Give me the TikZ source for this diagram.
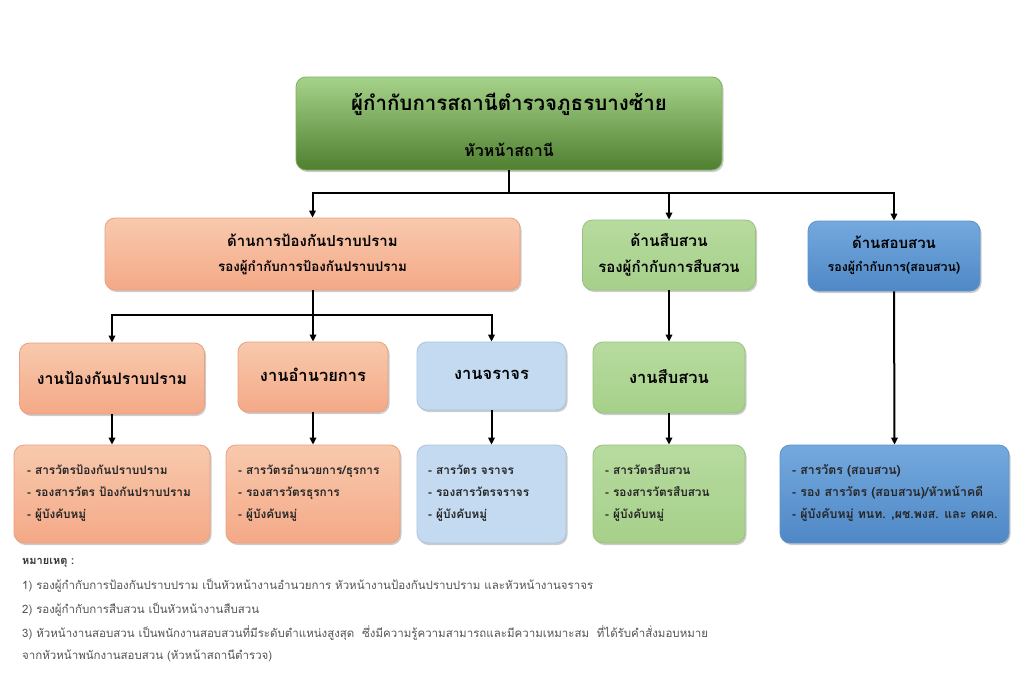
\documentclass[tikz,border=0pt]{standalone}
\usepackage{fontspec}
\setmainfont[Script=Thai]{Loma}
\usetikzlibrary{arrows.meta,shadows}
\definecolor{gtop}{HTML}{A6D38A}
\definecolor{gbot}{HTML}{4F7F2F}
\definecolor{gdraw}{HTML}{7FAE5F}
\definecolor{stop}{HTML}{F8C9AD}
\definecolor{sbot}{HTML}{F4A987}
\definecolor{sdraw}{HTML}{E9A17F}
\definecolor{ltop}{HTML}{B7DB9F}
\definecolor{lbot}{HTML}{A6D08A}
\definecolor{ldraw}{HTML}{98C27C}
\definecolor{btop}{HTML}{74A9DE}
\definecolor{bbot}{HTML}{4F88C6}
\definecolor{bdraw}{HTML}{5E93CB}
\definecolor{pbl}{HTML}{C3DAF0}
\definecolor{pbldraw}{HTML}{A9C4DE}
\definecolor{notec}{HTML}{555555}
\begin{document}
\begin{tikzpicture}[x=1pt,y=-1pt,
  box/.style={rounded corners=10pt, line width=0.8pt, inner sep=0pt,
    drop shadow={shadow xshift=1.5pt, shadow yshift=-2pt, opacity=0.2, fill=black}},
  topbox/.style={box, draw=gdraw, top color=gtop, bottom color=gbot},
  salbox/.style={box, draw=sdraw, top color=stop, bottom color=sbot},
  grnbox/.style={box, draw=ldraw, top color=ltop, bottom color=lbot},
  blubox/.style={box, draw=bdraw, top color=btop, bottom color=bbot},
  palebox/.style={box, draw=pbldraw, fill=pbl},
  lbl/.style={inner sep=0pt, text=black, font=\bfseries},
  lst/.style={inner sep=0pt, anchor=west, align=left, text=black!85,
    font=\fontsize{11.8}{22}\selectfont\bfseries},
  note/.style={inner sep=0pt, anchor=west, text=notec, font=\fontsize{11.5}{13}\selectfont},
  ln/.style={line width=2pt, black},
  arr/.style={ln, -{Triangle[length=7pt,width=6.5pt]}}]
\useasboundingbox[fill=white] (0,0) rectangle (1024,685);

% top
\node[topbox, minimum width=426pt, minimum height=93pt] (top) at (509,123.5) {};
\node[lbl, font=\fontsize{20.5}{26}\selectfont\bfseries] (topa) at (509,104) {ผู้กำกับการสถานีตำรวจภูธรบางซ้าย};
\node[lbl, font=\fontsize{16}{20}\selectfont\bfseries] (topb) at (509,150) {หัวหน้าสถานี};

% second tier
\node[salbox, minimum width=415pt, minimum height=72pt] (A) at (312.5,254) {};
\node[lbl, font=\fontsize{15}{20}\selectfont\bfseries] (Aa) at (312.5,240) {ด้านการป้องกันปราบปราม};
\node[lbl, font=\fontsize{13.4}{18}\selectfont\bfseries] (Ab) at (312.5,268) {รองผู้กำกับการป้องกันปราบปราม};

\node[grnbox, minimum width=173pt, minimum height=70pt] (B) at (669,255) {};
\node[lbl, font=\fontsize{15.5}{20}\selectfont\bfseries] (Ba) at (669,240) {ด้านสืบสวน};
\node[lbl, font=\fontsize{15}{20}\selectfont\bfseries] (Bb) at (669,268) {รองผู้กำกับการสืบสวน};

\node[blubox, minimum width=172pt, minimum height=70pt] (C) at (894,256) {};
\node[lbl, font=\fontsize{15}{20}\selectfont\bfseries] (Ca) at (894,242) {ด้านสอบสวน};
\node[lbl, font=\fontsize{12.4}{18}\selectfont\bfseries] (Cb) at (894,268) {รองผู้กำกับการ(สอบสวน)};

% third tier
\node[salbox, minimum width=185pt, minimum height=71pt] (D) at (112,378.5) {};
\node[lbl, font=\fontsize{15.8}{20}\selectfont\bfseries] (Da) at (112,378) {งานป้องกันปราบปราม};
\node[salbox, minimum width=150pt, minimum height=70pt] (E) at (313,377) {};
\node[lbl, font=\fontsize{16.5}{20}\selectfont\bfseries] (Ea) at (313,375) {งานอำนวยการ};
\node[palebox, minimum width=149pt, minimum height=68pt] (F) at (491.5,376) {};
\node[lbl, font=\fontsize{16.5}{20}\selectfont\bfseries] (Fa) at (491.5,375) {งานจราจร};
\node[grnbox, minimum width=152pt, minimum height=71pt] (G) at (669,377.5) {};
\node[lbl, font=\fontsize{16.5}{20}\selectfont\bfseries] (Ga) at (669,377) {งานสืบสวน};

% fourth tier
\node[salbox, minimum width=196pt, minimum height=98pt] (D2) at (112,494) {};
\node[lst] (D2t) at (27,493) {- สารวัตรป้องกันปราบปราม\\- รองสารวัตร ป้องกันปราบปราม\\- ผู้บังคับหมู่};
\node[salbox, minimum width=174pt, minimum height=98pt] (E2) at (313,494) {};
\node[lst] (E2t) at (238,493) {- สารวัตรอำนวยการ/ธุรการ\\- รองสารวัตรธุรการ\\- ผู้บังคับหมู่};
\node[palebox, minimum width=149pt, minimum height=98pt] (F2) at (491.5,494) {};
\node[lst] (F2t) at (428,493) {- สารวัตร จราจร\\- รองสารวัตรจราจร\\- ผู้บังคับหมู่};
\node[grnbox, minimum width=152pt, minimum height=98pt] (G2) at (669,494) {};
\node[lst] (G2t) at (605,493) {- สารวัตรสืบสวน\\- รองสารวัตรสืบสวน\\- ผู้บังคับหมู่};
\node[blubox, minimum width=229pt, minimum height=98pt] (C2) at (894.5,494) {};
\node[lst, font=\fontsize{12.3}{22}\selectfont\bfseries] (C2t) at (792,493) {- สารวัตร (สอบสวน)\\- รอง สารวัตร (สอบสวน)/หัวหน้าคดี\\- ผู้บังคับหมู่ ทนท. ,ผช.พงส. และ คผค.};

% connectors
\coordinate (j1) at (509,193);
\draw[ln] (top.south) -- (j1);
\draw[arr] (j1) -| (A.north);
\draw[arr] (j1) -| (B.north);
\draw[arr] (j1) -| (C.north);
\coordinate (j2) at (312.5,315);
\draw[ln] (A.south) -- (j2);
\draw[arr] (j2) -| (D.north);
\draw[arr] (j2) -| (E.north);
\draw[arr] (j2) -| (F.north);
\draw[arr] (B.south) -- (G.north);
\draw[arr] (D.south) -- (D2.north);
\draw[arr] (E.south) -- (E2.north);
\draw[arr] (F.south) -- (F2.north);
\draw[arr] (G.south) -- (G2.north);
\draw[arr] (C.south) -- (C2.north);

% notes
\node[note, font=\fontsize{11}{12}\selectfont\bfseries, text=black!80] (n0) at (22,563) {หมายเหตุ :};
\node[note] (n1) at (22,586) {1) รองผู้กำกับการป้องกันปราบปราม เป็นหัวหน้างานอำนวยการ หัวหน้างานป้องกันปราบปราม และหัวหน้างานจราจร};
\node[note] (n2) at (22,610) {2) รองผู้กำกับการสืบสวน เป็นหัวหน้างานสืบสวน};
\node[note] (n3) at (22,633) {3) หัวหน้างานสอบสวน เป็นพนักงานสอบสวนที่มีระดับตำแหน่งสูงสุด \ ซึ่งมีความรู้ความสามารถและมีความเหมาะสม \ ที่ได้รับคำสั่งมอบหมาย};
\node[note] (n4) at (22,656) {จากหัวหน้าพนักงานสอบสวน (หัวหน้าสถานีตำรวจ)};
\end{tikzpicture}
\end{document}
